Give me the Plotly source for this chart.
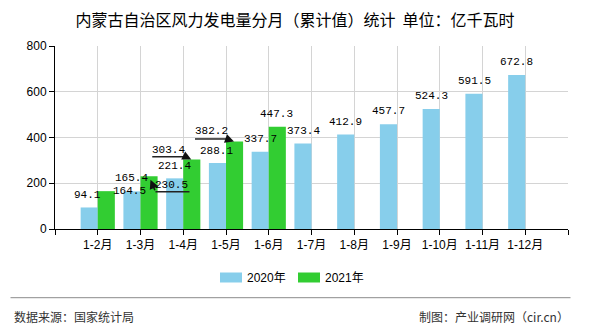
import plotly.graph_objects as go

# ---------------- data ----------------
categories = ["1-2月", "1-3月", "1-4月", "1-5月", "1-6月", "1-7月",
              "1-8月", "1-9月", "1-10月", "1-11月", "1-12月"]
values_2020 = [94.1, 164.5, 221.4, 288.1, 337.7, 373.4, 412.9, 457.7, 524.3, 591.5, 672.8]
values_2021 = [165.4, 230.5, 303.4, 382.2, 447.3]
series_names = ["2020年", "2021年"]
y_ticks = [0, 200, 400, 600, 800]
title_text = "内蒙古自治区风力发电量分月（累计值）统计  单位：亿千瓦时"
source_text = "数据来源：国家统计局"
credit_text = "制图：产业调研网（cir.cn）"

# ---------------- styles ----------------
W, H = 590, 330
ML, MR, MT, MB = 55, 22, 46, 101
PW, PH = W - ML - MR, H - MT - MB
C2020, C2021 = "#87CEEB", "#32CD32"
GRID = "#d4d4d4"
CJK = "Liberation Sans, Noto Sans CJK SC"
LABEL_FONT = dict(family="Liberation Mono, DejaVu Sans Mono", size=11, color="black")

# label offsets in px: (dx from category centre, dy above bar top)
label_off_2020 = [(-10, 12.7), (-11.5, 0.6), (-9, 12.6), (-10, 12.3), (-8, 13)] + [(-8.5, 13)] * 6
label_off_2021 = [(34, 13.4), (31, -8.5), (-15, 9.8), (-15, 10.7), (8, 12.8)]


def px_x(p):
    return (p - ML) / PW


def px_y(p):
    return (H - MB - p) / PH


fig = go.Figure()
fig.add_bar(x=categories, y=values_2020, name=series_names[0], marker_color=C2020,
            marker_line_width=0)
fig.add_bar(x=categories[:len(values_2021)], y=values_2021, name=series_names[1],
            marker_color=C2021, marker_line_width=0)

ann = []
for cat, v, (dx, dy) in zip(categories, values_2020, label_off_2020):
    ann.append(dict(x=cat, y=v, xref="x", yref="y", text=f"{v:.1f}", showarrow=False,
                    xshift=dx, yshift=dy, xanchor="center", yanchor="middle", font=LABEL_FONT))
for cat, v, (dx, dy) in zip(categories, values_2021, label_off_2021):
    ann.append(dict(x=cat, y=v, xref="x", yref="y", text=f"{v:.1f}", showarrow=False,
                    xshift=dx, yshift=dy, xanchor="center", yanchor="middle", font=LABEL_FONT))

# leader lines for displaced 2021 labels: (index, underline x0, x1, y, tip dx, tip dy, tail ax, ay)
leaders = [
    (1, 15, 49, -15.5, 10, -3.5, 5, 12),
    (2, -31, 3, 2.8, 8, 0, -5, -2.5),
    (3, -31, 1, 2.6, 8, 0, -7, -2.5),
]
shapes = []
for i, x0, x1, yy, tdx, tdy, ax, ay in leaders:
    v = values_2021[i]
    shapes.append(dict(type="line", xref="x", yref="y", xsizemode="pixel", ysizemode="pixel",
                       xanchor=i, yanchor=v, x0=x0, x1=x1, y0=yy, y1=yy,
                       line=dict(color="#222", width=1.5)))
    ann.append(dict(x=categories[i], y=v, xref="x", yref="y", text="", showarrow=True,
                    xshift=tdx, yshift=tdy, ax=ax, ay=ay, axref="pixel", ayref="pixel",
                    arrowhead=2, arrowsize=1.2, arrowwidth=1.5, arrowcolor="#111"))

# manual legend
legend_items = [(series_names[0], C2020, 220), (series_names[1], C2021, 298)]
for name, col, x0 in legend_items:
    shapes.append(dict(type="rect", xref="paper", yref="paper", x0=px_x(x0), x1=px_x(x0 + 22),
                       y0=px_y(282.5), y1=px_y(272.5), fillcolor=col, line_width=0))
    ann.append(dict(x=px_x(x0 + 25), y=px_y(277.5), xref="paper", yref="paper", text=name,
                    showarrow=False, xanchor="left", yanchor="middle",
                    font=dict(family=CJK, size=12, color="black")))

# separator + footer
shapes.append(dict(type="line", xref="paper", yref="paper", x0=px_x(10.5), x1=px_x(570.5),
                   y0=px_y(297.7), y1=px_y(297.7), line=dict(color="#8c8c8c", width=1)))
ann.append(dict(x=px_x(12), y=px_y(316), xref="paper", yref="paper", text=source_text,
                showarrow=False, xanchor="left", yanchor="middle",
                font=dict(family="Noto Sans CJK SC", size=12, color="#333")))
ann.append(dict(x=px_x(571), y=px_y(316), xref="paper", yref="paper", text=credit_text,
                showarrow=False, xanchor="right", yanchor="middle",
                font=dict(family="Noto Sans CJK SC", size=12, color="#333")))

tickvals = list(range(-1, len(categories) + 1))
ticktext = [""] + categories + [""]

fig.update_layout(
    width=W, height=H,
    margin=dict(l=ML, r=MR, t=MT, b=MB, pad=0),
    paper_bgcolor="white", plot_bgcolor="white",
    barmode="group", bargap=0.2, bargroupgap=0,
    showlegend=False,
    title=dict(text=title_text, x=0.5, xref="container", xanchor="center",
               y=1 - 20.5 / H, yref="container", yanchor="middle",
               font=dict(family="Noto Sans CJK SC", size=16, color="black")),
    xaxis=dict(type="category", range=[-1, len(categories)], tickmode="array",
               tickvals=tickvals, ticktext=ticktext, showgrid=True, gridcolor=GRID,
               gridwidth=1, showline=True, linecolor="black", linewidth=1,
               ticks="outside", ticklen=5, tickcolor="black",
               tickfont=dict(family=CJK, size=12, color="black"), zeroline=False),
    yaxis=dict(range=[0, 800], tickmode="array", tickvals=y_ticks, showgrid=True,
               gridcolor=GRID, gridwidth=1, showline=True, linecolor="black", linewidth=1,
               ticks="outside", ticklen=5, tickcolor="black", zeroline=False,
               tickfont=dict(family="Liberation Sans", size=12, color="black")),
    annotations=ann, shapes=shapes,
)

fig.write_html("out.html")
